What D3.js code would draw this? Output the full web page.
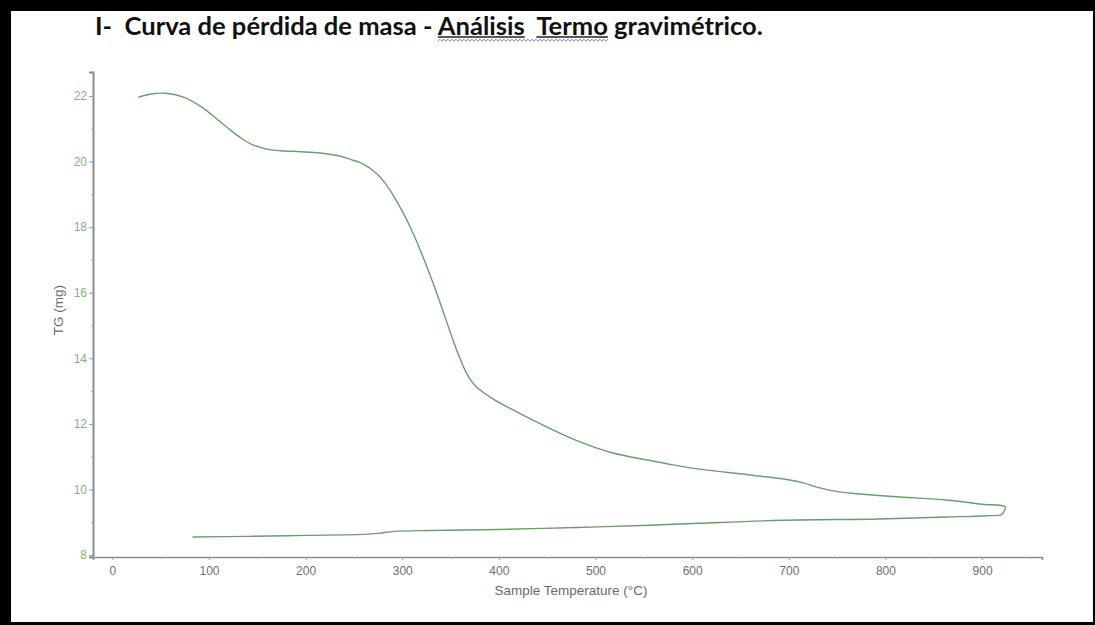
<!DOCTYPE html>
<html>
<head>
<meta charset="utf-8">
<script src="https://cdn.jsdelivr.net/npm/d3@7"></script>
<style>
  html, body { margin: 0; padding: 0; background: #fff; }
  svg { display: block; }
</style>
</head>
<body>
<svg id="chart" width="1095" height="625"></svg>
<script>
// Heating branch: sample temperature (°C) and mass (mg)
const heatTemp = [27, 40, 55, 75, 94, 110, 122, 135, 146, 160, 174, 195, 215, 235, 249, 255, 262, 270, 276, 282, 288, 296,
  304, 312, 320, 328, 336, 344, 352, 358, 364, 370, 376, 383, 395, 415, 450, 484, 518, 553, 580,
  608, 660, 701, 715, 729, 743, 756, 770, 815, 863, 900, 924];
const heatMass = [21.96, 22.06, 22.08, 21.95, 21.63, 21.25, 20.96, 20.68, 20.5, 20.38, 20.33, 20.3, 20.26, 20.17, 20.04, 19.98, 19.88, 19.72, 19.56, 19.35, 19.1, 18.7,
  18.26, 17.76, 17.2, 16.6, 15.96, 15.28, 14.6, 14.12, 13.7, 13.37, 13.15, 12.98, 12.74, 12.42, 11.9, 11.45, 11.11, 10.9, 10.75,
  10.62, 10.44, 10.29, 10.2, 10.07, 9.97, 9.91, 9.87, 9.77, 9.68, 9.55, 9.47];
// Turning point at the maximum temperature
const turnTemp = [923, 920];
const turnMass = [9.35, 9.23];
// Cooling branch
const coolTemp = [905, 863, 794, 694, 608, 556, 480, 400, 330, 292, 275, 260, 200, 140, 83];
const coolMass = [9.2, 9.16, 9.1, 9.06, 8.97, 8.91, 8.84, 8.78, 8.75, 8.72, 8.66, 8.63, 8.6, 8.57, 8.55];

const xTicks = [0, 100, 200, 300, 400, 500, 600, 700, 800, 900];
const xMinorTicks = [50, 150, 250, 350, 450, 550, 650, 750, 850, 950];
const yTicks = [8, 10, 12, 14, 16, 18, 20, 22];
const yMinorTicks = [9, 11, 13, 15, 17, 19, 21];

const titleParts = ["I-  Curva de pérdida de masa - ", "Análisis", "  ", "Termo", " gravimétrico."];
const xLabel = "Sample Temperature (°C)";
const yLabel = "TG (mg)";

const svg = d3.select("#chart");
const W = 1095, H = 625;
const sans = "Liberation Sans, Arial, sans-serif";

// Frame
svg.append("rect").attr("x", 0).attr("y", 0).attr("width", W).attr("height", H).attr("fill", "#000");
svg.append("rect").attr("x", 11).attr("y", 11).attr("width", 1082).attr("height", 611).attr("fill", "#fff");

const x = d3.scaleLinear().domain([-20, 962]).range([93, 1042]);
const y = d3.scaleLinear().domain([7.94, 22.73]).range([557, 72]);

const axisColor = "#8c8c8c";

// Y axis
const yAxis = svg.append("g").attr("transform", `translate(${x(-20)},0)`)
  .call(d3.axisLeft(y).tickValues(yTicks).tickSize(4).tickPadding(2).tickFormat(d3.format("d")));
yAxis.select(".domain").attr("stroke", axisColor).attr("stroke-width", 2);
yAxis.selectAll(".tick line").attr("stroke", "#9a9a9a");
yAxis.selectAll(".tick text").attr("fill", "#7db87d").attr("font-family", sans).attr("font-size", 12);
svg.append("g").attr("transform", `translate(${x(-20)},0)`)
  .call(d3.axisLeft(y).tickValues(yMinorTicks).tickSize(2).tickFormat(""))
  .call(g => g.select(".domain").remove())
  .selectAll("line").attr("stroke", "#a8a8a8");

// X axis
const xAxis = svg.append("g").attr("transform", `translate(0,${y(7.94)})`)
  .call(d3.axisBottom(x).tickValues(xTicks).tickSize(3).tickPadding(6).tickFormat(d3.format("d")));
xAxis.select(".domain").attr("stroke", axisColor).attr("stroke-width", 1.6);
xAxis.selectAll(".tick line").attr("stroke", "#a0a0a0");
xAxis.selectAll(".tick text").attr("fill", "#6e6e6e").attr("font-family", sans).attr("font-size", 12);
svg.append("g").attr("transform", `translate(0,${y(7.94)})`)
  .call(d3.axisBottom(x).tickValues(xMinorTicks).tickSize(2).tickFormat(""))
  .call(g => g.select(".domain").remove())
  .selectAll("line").attr("stroke", "#b0b0b0");

// Axis titles
svg.append("text").attr("x", 571).attr("y", 595).attr("text-anchor", "middle")
  .attr("font-family", sans).attr("font-size", 13.5).attr("fill", "#6a6a6a")
  .text(xLabel);
svg.append("text").attr("transform", "translate(63,310) rotate(-90)").attr("text-anchor", "middle")
  .attr("font-family", sans).attr("font-size", 13.5).attr("fill", "#6a6a6a")
  .text(yLabel);

// TG curve: heating, turn, cooling as one continuous trace
const temps = heatTemp.concat(turnTemp, coolTemp);
const masses = heatMass.concat(turnMass, coolMass);
const pts = temps.map((t, i) => [t, masses[i]]);
const line = d3.line().x(d => x(d[0])).y(d => y(d[1])).curve(d3.curveCatmullRom.alpha(0.5));
svg.append("path").datum(pts).attr("d", line)
  .attr("fill", "none").attr("stroke", "#6a9e6a").attr("stroke-width", 1.4).attr("stroke-linejoin", "round");

// Title
const title = svg.append("text").attr("x", 95).attr("y", 35)
  .attr("font-family", "Lato, 'Open Sans', sans-serif").attr("font-weight", 700)
  .attr("font-size", 21).attr("fill", "#111").attr("xml:space", "preserve").style("white-space", "pre");
title.selectAll("tspan").data(titleParts).join("tspan").text(d => d);
// fit the title to its line width
const targetWidth = 668;
const w0 = title.node().getComputedTextLength();
title.attr("font-size", 21 * targetWidth / w0);

// Underlines under the two marked words
const tnode = title.node();
function charIndex(part) {
  let n = 0;
  for (let i = 0; i < part; i++) n += titleParts[i].length;
  return n;
}
[1, 3].forEach(p => {
  const i0 = charIndex(p);
  const x0 = tnode.getStartPositionOfChar(i0).x;
  const x1 = tnode.getEndPositionOfChar(i0 + titleParts[p].length - 1).x;
  svg.append("line").attr("x1", x0).attr("x2", x1).attr("y1", 37).attr("y2", 37)
    .attr("stroke", "#222").attr("stroke-width", 1.3);
});
// Wavy proofing mark across "Análisis  Termo"
{
  const i0 = charIndex(1);
  const i1 = charIndex(3) + titleParts[3].length - 1;
  const x0 = tnode.getStartPositionOfChar(i0).x;
  const x1 = tnode.getEndPositionOfChar(i1).x;
  const wave = [];
  for (let xx = x0, k = 0; xx <= x1; xx += 2, k++) wave.push([xx, k % 2 ? 39.2 : 41.2]);
  svg.append("path").attr("d", d3.line()(wave)).attr("fill", "none")
    .attr("stroke", "#6b6bd0").attr("stroke-width", 0.9);
}
</script>
</body>
</html>
